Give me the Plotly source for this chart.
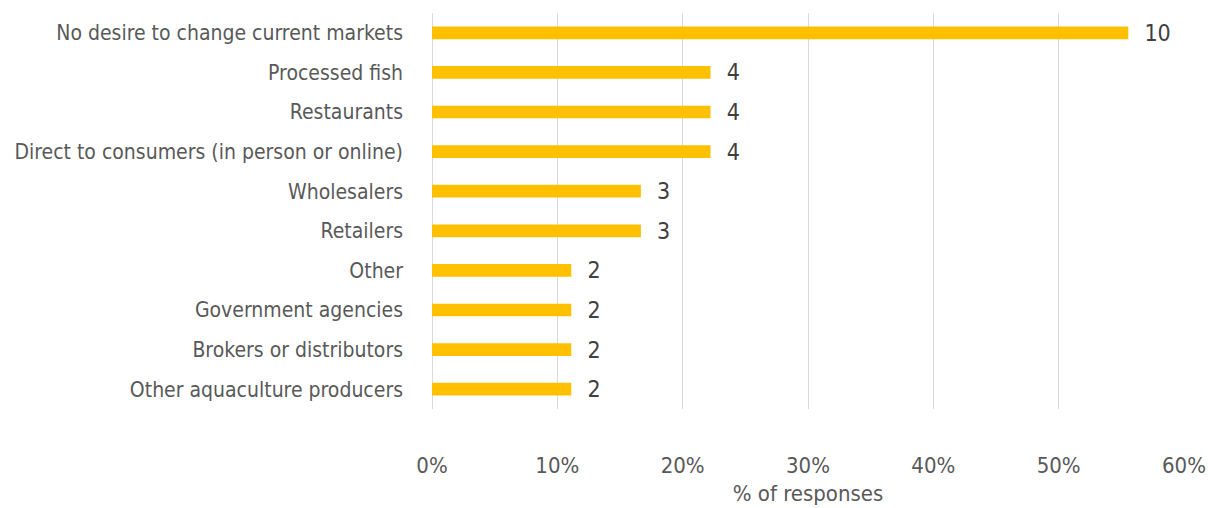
import plotly.graph_objects as go

categories = [
    "No desire to change current markets",
    "Processed fish",
    "Restaurants",
    "Direct to consumers (in person or online)",
    "Wholesalers",
    "Retailers",
    "Other",
    "Government agencies",
    "Brokers or distributors",
    "Other aquaculture producers",
]
counts = [10, 4, 4, 4, 3, 3, 2, 2, 2, 2]
total_respondents = 18
percent = [c / total_respondents for c in counts]
tick_vals = [0, 0.1, 0.2, 0.3, 0.4, 0.5, 0.6]
tick_text = ["0%", "10%", "20%", "30%", "40%", "50%", "60%"]

FONT = "DejaVu Sans Condensed, Liberation Sans Narrow, sans-serif"
FS = 21

fig = go.Figure(
    go.Bar(
        x=percent,
        y=categories,
        orientation="h",
        marker=dict(color="#FFC000", line=dict(width=0)),
        width=0.32,
        text=["  " + str(c) for c in counts],
        textposition="outside",
        constraintext="none",
        textfont=dict(family=FONT, size=23, color="#404040"),
        cliponaxis=False,
    )
)

fig.update_layout(
    width=1206,
    height=500,
    margin=dict(l=424, r=30, t=5, b=99),
    paper_bgcolor="white",
    plot_bgcolor="white",
    showlegend=False,
    font=dict(family=FONT, size=FS, color="#595959"),
    xaxis=dict(
        range=[0, 0.6],
        tickvals=tick_vals,
        ticktext=tick_text,
        showgrid=True,
        gridcolor="#D9D9D9",
        gridwidth=1,
        zeroline=True,
        zerolinecolor="#D9D9D9",
        zerolinewidth=1,
        showline=False,
        ticks="",
        automargin=False,
        ticklabelstandoff=41,
        tickfont=dict(family=FONT, size=22, color="#595959"),
        title=dict(text="% of responses", standoff=8,
                   font=dict(family=FONT, size=22, color="#595959")),
    ),
    yaxis=dict(
        autorange="reversed",
        showgrid=False,
        zeroline=False,
        showline=False,
        ticks="",
        automargin=False,
        ticklabelstandoff=28,
        tickfont=dict(family=FONT, size=FS, color="#595959"),
    ),
)

fig.write_html("out.html")
